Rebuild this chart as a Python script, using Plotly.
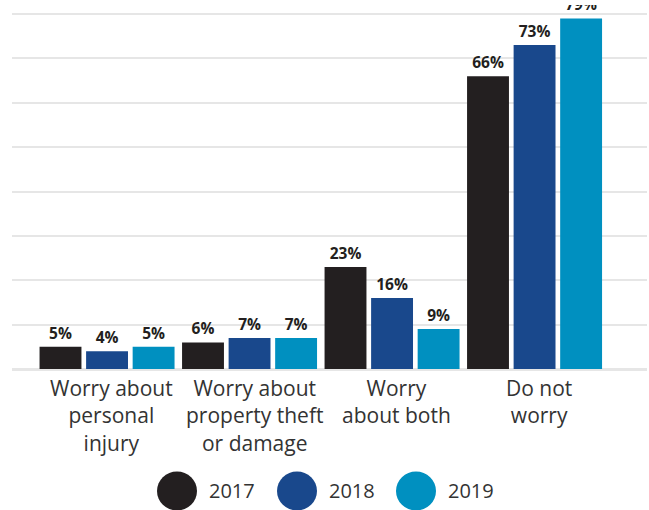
import plotly.graph_objects as go

categories = ["Worry about personal injury", "Worry about property theft or damage",
              "Worry about both", "Do not worry"]
category_labels = ["Worry about<br>personal<br>injury",
                   "Worry about<br>property theft<br>or damage",
                   "Worry<br>about both",
                   "Do not<br>worry"]
years = ["2017", "2018", "2019"]
values_2017 = [5, 6, 23, 66]
values_2018 = [4, 7, 16, 73]
values_2019 = [5, 7, 9, 79]
colors = ["#231f20", "#19488c", "#0090c0"]

series = [values_2017, values_2018, values_2019]

fig = go.Figure()
for yr, vals, col in zip(years, series, colors):
    fig.add_trace(go.Bar(
        x=categories, y=vals, name=yr,
        marker=dict(color=col, line=dict(width=0)),
        text=[f"{v}%" for v in vals], textposition="outside",
        textfont=dict(family="Open Sans", size=15.5, color="#231f20", weight="bold"),
        cliponaxis=True, showlegend=False,
    ))

W, H, L, R, T, B = 649, 510, 12, 2, 5, 141
pw = W - L - R
ph = H - T - B
base_y = H - B

# Category labels below each group
label_top = 371.5
for cat, lab in zip(categories, category_labels):
    fig.add_annotation(xref="x", yref="paper", x=cat, y=-(label_top - base_y) / ph,
                       text=lab, showarrow=False, xanchor="center", yanchor="top",
                       xshift=4.5, align="center",
                       font=dict(family="Open Sans", size=21, color="#333333"))

# Legend drawn as circles + labels below plot
leg_x = [177, 297, 416]  # pixel centers
for yr, col, px in zip(years, colors, leg_x):
    xp = (px - L) / pw
    fig.add_shape(type="circle", xref="paper", yref="paper",
                  xsizemode="pixel", ysizemode="pixel",
                  xanchor=xp, yanchor=-0.335,
                  x0=-20, x1=20, y0=-19.5, y1=19.5,
                  fillcolor=col, line=dict(width=0))
    fig.add_annotation(xref="paper", yref="paper", x=xp + 30 / pw, y=-0.335,
                       text=yr, showarrow=False, xanchor="left", yanchor="middle",
                       font=dict(family="Open Sans", size=20, color="#333333"))

fig.update_layout(
    width=W, height=H,
    margin=dict(l=L, r=R, t=T, b=B),
    plot_bgcolor="white", paper_bgcolor="white",
    barmode="group", bargap=0.02, bargroupgap=0.1,
    showlegend=False,
    font=dict(family="Open Sans", color="#333333"),
    xaxis=dict(range=[-0.667, 3.789], showgrid=False, showline=False, zeroline=False,
               showticklabels=False, ticks=""),
    yaxis=dict(range=[0, 82.03], dtick=10, showgrid=True, gridcolor="#e6e6e6", gridwidth=2,
               zeroline=True, zerolinecolor="#e6e6e6", zerolinewidth=3,
               showticklabels=False, showline=False),
)

fig.write_html("out.html", config={"displayModeBar": False},
               post_script="document.body.style.margin='0';document.body.style.overflow='hidden';")
